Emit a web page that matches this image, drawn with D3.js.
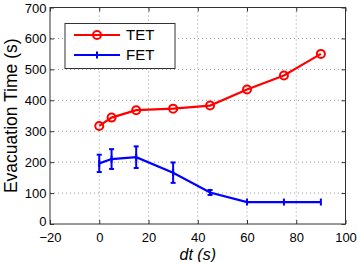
<!DOCTYPE html>
<html>
<head>
<meta charset="utf-8">
<script src="https://cdn.jsdelivr.net/npm/d3@7"></script>
<style>
body { margin: 0; background: #fff; }
text { font-family: "Liberation Sans", Arial, sans-serif; }
</style>
</head>
<body>
<div class="chart"></div>
<script>
// data
var dt = [0, 5, 15, 30, 45, 60, 75, 90];
var tet = [317, 344, 368, 373, 383, 435, 480, 550];
var fet = [196, 210, 216, 166, 102, 71, 71, 71];
var fetErr = [28, 32, 35, 33, 8, 0, 0, 0];
var xTicks = [-20, 0, 20, 40, 60, 80, 100];
var yTicks = [0, 100, 200, 300, 400, 500, 600, 700];

var margin = {top: 7.5, right: 11.5, bottom: 38, left: 50},
    width = 357 - margin.left - margin.right,
    height = 262 - margin.top - margin.bottom;

var svg = d3.select('div.chart').append('svg')
    .attr('width', 357).attr('height', 262);
var g = svg.append('g').attr('transform', 'translate(' + margin.left + ',' + margin.top + ')');

var x = d3.scaleLinear().domain([-20, 100]).range([0, width]);
var y = d3.scaleLinear().domain([0, 700]).range([height, 0]);

// dotted grid
g.selectAll('line.vg').data(xTicks.slice(1, -1)).enter().append('line')
    .attr('x1', d => x(d)).attr('x2', d => x(d)).attr('y1', 0).attr('y2', height)
    .attr('stroke', '#999').attr('stroke-width', 1).attr('stroke-dasharray', '1,3');
g.selectAll('line.hg').data(yTicks.slice(1, -1)).enter().append('line')
    .attr('y1', d => y(d)).attr('y2', d => y(d)).attr('x1', 0).attr('x2', width)
    .attr('stroke', '#999').attr('stroke-width', 1).attr('stroke-dasharray', '1,3');

// axes, ticks pointing inward like matlab
var axColor = '#333';
function styleAxis(sel) {
  sel.select('.domain').remove();
  sel.selectAll('line').attr('stroke', axColor);
  sel.selectAll('text').attr('fill', '#000').style('font-size', '13px');
}
g.append('g').attr('transform', 'translate(0,' + height + ')')
  .call(d3.axisBottom(x).tickValues(xTicks).tickSize(-4).tickPadding(8.5).tickFormat(d => d < 0 ? '\u2212' + (-d) : d))
  .call(styleAxis);
g.append('g')
  .call(d3.axisLeft(y).tickValues(yTicks).tickSize(-4).tickPadding(3.5))
  .call(styleAxis)
  .selectAll('text').attr('dy', d => d === 0 ? '0.15em' : '0.35em');
g.append('g').call(d3.axisTop(x).tickValues(xTicks).tickSize(-4).tickFormat(''))
  .call(styleAxis);
g.append('g').attr('transform', 'translate(' + width + ',0)')
  .call(d3.axisRight(y).tickValues(yTicks).tickSize(-4).tickFormat(''))
  .call(styleAxis);
g.append('rect').attr('width', width).attr('height', height)
  .attr('fill', 'none').attr('stroke', axColor).attr('stroke-width', 1);

// TET line
var tetData = dt.map((d, i) => ({x: d, y: tet[i]}));
var fetData = dt.map((d, i) => ({x: d, y: fet[i], e: fetErr[i]}));
var line = d3.line().x(d => x(d.x)).y(d => y(d.y));

g.append('path').datum(tetData).attr('d', line)
  .attr('fill', 'none').attr('stroke', '#f00').attr('stroke-width', 2.2);
g.selectAll('circle.tet').data(tetData).enter().append('circle')
  .attr('cx', d => x(d.x)).attr('cy', d => y(d.y)).attr('r', 4)
  .attr('fill', 'none').attr('stroke', '#f00').attr('stroke-width', 2);

// FET line with error bars
g.append('path').datum(fetData).attr('d', line)
  .attr('fill', 'none').attr('stroke', '#00f').attr('stroke-width', 2.2);
var eb = g.selectAll('g.eb').data(fetData).enter().append('g')
  .attr('stroke', '#00f').attr('stroke-width', 2);
eb.append('line').attr('x1', d => x(d.x)).attr('x2', d => x(d.x))
  .attr('y1', d => y(d.y - d.e)).attr('y2', d => y(d.y + d.e));
eb.filter(d => d.e > 0).append('line').attr('x1', d => x(d.x) - 2.5).attr('x2', d => x(d.x) + 2.5)
  .attr('y1', d => y(d.y - d.e)).attr('y2', d => y(d.y - d.e));
eb.filter(d => d.e > 0).append('line').attr('x1', d => x(d.x) - 2.5).attr('x2', d => x(d.x) + 2.5)
  .attr('y1', d => y(d.y + d.e)).attr('y2', d => y(d.y + d.e));
// plus markers
eb.append('line').attr('x1', d => x(d.x)).attr('x2', d => x(d.x))
  .attr('y1', d => y(d.y) - 3.5).attr('y2', d => y(d.y) + 3.5);

// legend
var lg = svg.append('g');
lg.append('rect').attr('x', 65).attr('y', 23.5).attr('width', 110).attr('height', 45)
  .attr('fill', '#fff').attr('stroke', axColor).attr('stroke-width', 1);
lg.append('line').attr('x1', 74).attr('x2', 120).attr('y1', 35).attr('y2', 35)
  .attr('stroke', '#f00').attr('stroke-width', 2.2);
lg.append('circle').attr('cx', 97).attr('cy', 35).attr('r', 4)
  .attr('fill', 'none').attr('stroke', '#f00').attr('stroke-width', 2);
lg.append('text').attr('x', 126).attr('y', 35).attr('dy', '0.35em').style('font-size', '15px').text('TET');
lg.append('line').attr('x1', 74).attr('x2', 120).attr('y1', 55).attr('y2', 55)
  .attr('stroke', '#00f').attr('stroke-width', 2.2);
lg.append('line').attr('x1', 97).attr('x2', 97).attr('y1', 51.5).attr('y2', 58.5)
  .attr('stroke', '#00f').attr('stroke-width', 2);
lg.append('text').attr('x', 126).attr('y', 55).attr('dy', '0.35em').style('font-size', '15px').text('FET');

// axis labels
svg.append('text').attr('transform', 'translate(11,' + (margin.top + height / 2) + ') rotate(-90)')
  .attr('text-anchor', 'middle').attr('dy', '0.35em').style('font-size', '17.5px').text('Evacuation Time (s)');
svg.append('text').attr('x', margin.left + x(40)).attr('y', 254).attr('text-anchor', 'middle')
  .attr('dy', '0.35em').style('font-size', '16px').style('font-style', 'italic').text('dt (s)');
</script>
</body>
</html>
